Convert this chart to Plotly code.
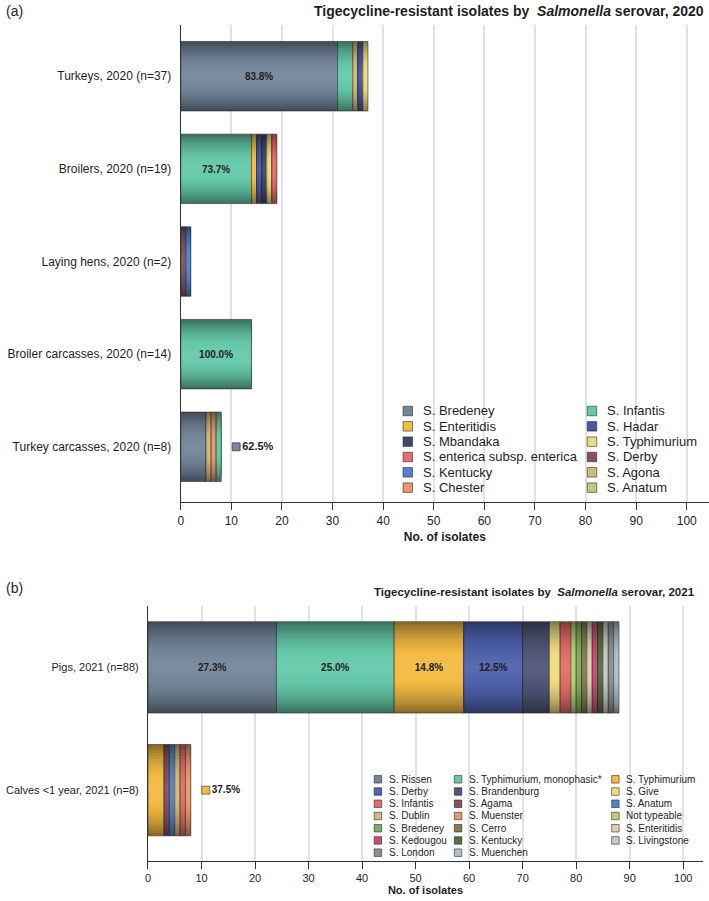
import plotly.graph_objects as go

W, H = 709, 901

# ---------------- data: 2020 ----------------
cats_2020 = ["Turkeys, 2020 (n=37)", "Broilers, 2020 (n=19)", "Laying hens, 2020 (n=2)",
             "Broiler carcasses, 2020 (n=14)", "Turkey carcasses, 2020 (n=8)"]
turkeys_2020 = [("S. Bredeney", 31), ("S. Infantis", 3), ("S. Agona", 1), ("S. Hadar", 1), ("S. Typhimurium", 1)]
broilers_2020 = [("S. Infantis", 14), ("S. Enteritidis", 1), ("S. Hadar", 1), ("S. Mbandaka", 1),
                 ("S. Typhimurium", 1), ("S. enterica subsp. enterica", 1)]
laying_hens_2020 = [("S. Derby", 1), ("S. Kentucky", 1)]
broiler_carcasses_2020 = [("S. Infantis", 14)]
turkey_carcasses_2020 = [("S. Bredeney", 5), ("S. Agona", 1), ("S. Chester", 1), ("S. Infantis", 1)]
segments_2020 = [turkeys_2020, broilers_2020, laying_hens_2020, broiler_carcasses_2020, turkey_carcasses_2020]
# which serovar's share is labelled, and where
labels_2020 = {0: [("S. Bredeney", "inside")], 1: [("S. Infantis", "inside")],
               3: [("S. Infantis", "inside")], 4: [("S. Bredeney", "outside")]}
legend_2020 = [["S. Bredeney", "S. Enteritidis", "S. Mbandaka", "S. enterica subsp. enterica", "S. Kentucky", "S. Chester"],
               ["S. Infantis", "S. Hadar", "S. Typhimurium", "S. Derby", "S. Agona", "S. Anatum"]]

# ---------------- data: 2021 ----------------
cats_2021 = ["Pigs, 2021 (n=88)", "Calves <1 year, 2021 (n=8)"]
pigs_2021 = [("S. Rissen", 24), ("S. Typhimurium, monophasic*", 22), ("S. Typhimurium", 13), ("S. Derby", 11),
             ("S. Brandenburg", 5), ("S. Give", 2), ("S. Infantis", 2), ("Not typeable", 1), ("S. Bredeney", 1),
             ("S. Cerro", 1), ("S. Enteritidis", 1), ("S. Kedougou", 1), ("S. Kentucky", 1),
             ("S. Livingstone", 1), ("S. London", 1), ("S. Muenchen", 1)]
calves_2021 = [("S. Typhimurium", 3), ("S. Agama", 1), ("S. Anatum", 1), ("S. Dublin", 1),
               ("S. Infantis", 1), ("S. Muenster", 1)]
segments_2021 = [pigs_2021, calves_2021]
labels_2021 = {0: [("S. Rissen", "inside"), ("S. Typhimurium, monophasic*", "inside"),
                   ("S. Typhimurium", "inside"), ("S. Derby", "inside")],
               1: [("S. Typhimurium", "outside")]}
legend_2021 = [["S. Rissen", "S. Derby", "S. Infantis", "S. Dublin", "S. Bredeney", "S. Kedougou", "S. London"],
               ["S. Typhimurium, monophasic*", "S. Brandenburg", "S. Agama", "S. Muenster", "S. Cerro",
                "S. Kentucky", "S. Muenchen"],
               ["S. Typhimurium", "S. Give", "S. Anatum", "Not typeable", "S. Enteritidis", "S. Livingstone"]]

# ---------------- styles ----------------
colors_2020 = {
    "S. Bredeney": "#74879a", "S. Enteritidis": "#f4bb44", "S. Mbandaka": "#41476a",
    "S. enterica subsp. enterica": "#e56d6a", "S. Kentucky": "#5283c8", "S. Chester": "#e8986e",
    "S. Infantis": "#66c9aa", "S. Hadar": "#4459a6", "S. Typhimurium": "#efdc80",
    "S. Derby": "#83545e", "S. Agona": "#cdba7c", "S. Anatum": "#bdcc78",
}
colors_2021 = {
    "S. Rissen": "#74879a", "S. Derby": "#4f63ae", "S. Infantis": "#e56d6a", "S. Dublin": "#cdba7c",
    "S. Bredeney": "#7dad60", "S. Kedougou": "#c64e6e", "S. London": "#8e8e8e",
    "S. Typhimurium, monophasic*": "#66c9aa", "S. Brandenburg": "#505778", "S. Agama": "#83545e",
    "S. Muenster": "#e8986e", "S. Cerro": "#807f4a", "S. Kentucky": "#537042", "S. Muenchen": "#aec0cf",
    "S. Typhimurium": "#f4bb44", "S. Give": "#efdc80", "S. Anatum": "#5283c8", "Not typeable": "#bdcc78",
    "S. Enteritidis": "#dfcdb8", "S. Livingstone": "#c8c8c8",
}

FONT = "Liberation Sans, Arial, sans-serif"
TXT = "#1e1e1e"
EDGE = "rgba(30,30,30,0.55)"
N_SHADE = 16

# pixel geometry of the two panels
TOP = dict(x0=178.5, x1=709, y0=25, y1=502, xmax=104.4, yr=[4.596, -0.553], bw=0.75)
BOT = dict(x0=145.6, x1=703, y0=606, y1=861, xmax=103.7, yr=[1.577, -0.5], bw=0.744)


def py(v):
    return 1 - v / H


def px(v):
    return v / W


def shade(hex_color, dark):
    h = hex_color.lstrip("#")
    r, g, b = (int(h[i:i + 2], 16) for i in (0, 2, 4))
    if dark >= 0:
        f = 1 - dark
        r, g, b = r * f, g * f, b * f
    else:
        f = -dark
        r, g, b = r + (255 - r) * f, g + (255 - g) * f, b + (255 - b) * f
    return f"rgb({int(r)},{int(g)},{int(b)})"


fig = go.Figure()


def add_panel(cats, segments, labels, colors, xa, ya, geo, fsize):
    units_per_px = geo["xmax"] / (geo["x1"] - geo["x0"])
    for ci, segs in enumerate(segments):
        total = sum(n for _, n in segs)
        lab_map = dict(labels.get(ci, []))
        start = 0
        for name, n in segs:
            # layered bars give the vertical shading of each segment
            for k in range(N_SHADE):
                t = k / (N_SHADE - 1)
                w = geo["bw"] * (1 - 0.95 * t)
                dark = 0.42 * (1 - t) ** 2 - 0.05 * t
                fig.add_trace(go.Bar(
                    x=[n], base=[start], y=[cats[ci]], orientation="h", width=w,
                    marker=dict(color=shade(colors[name], dark), line=dict(width=0)),
                    textposition="none", name=name, showlegend=False, xaxis=xa, yaxis=ya,
                    hoverinfo="skip",
                ))
            # outline + label on top
            txt = f"{100 * n / total:.1f}%" if lab_map.get(name) == "inside" else ""
            fig.add_trace(go.Bar(
                x=[n], base=[start], y=[cats[ci]], orientation="h", width=geo["bw"],
                marker=dict(color="rgba(0,0,0,0)", line=dict(color=EDGE, width=1)),
                text=[txt], textposition="inside" if txt else "none", insidetextanchor="middle", textangle=0,
                textfont=dict(family=FONT, size=fsize, color=TXT, weight="bold"),
                constraintext="none",
                name=name, showlegend=False, xaxis=xa, yaxis=ya,
                hovertemplate=name + ": %{x}<extra></extra>",
            ))
            if lab_map.get(name) == "outside":
                fig.add_trace(go.Scatter(
                    x=[total + 15 * units_per_px], y=[cats[ci]], mode="markers+text",
                    marker=dict(symbol="square", size=8, color=colors[name], line=dict(color=EDGE, width=1)),
                    text=[f"{100 * n / total:.1f}%"], textposition="middle right",
                    textfont=dict(family=FONT, size=fsize, color=TXT, weight="bold"),
                    showlegend=False, xaxis=xa, yaxis=ya, hoverinfo="skip", cliponaxis=False,
                ))
            start += n


add_panel(cats_2020, segments_2020, labels_2020, colors_2020, "x", "y", TOP, 11)
add_panel(cats_2021, segments_2021, labels_2021, colors_2021, "x2", "y2", BOT, 10)

shapes = []
annotations = []


def add_legend(columns, colors, col_sq_x, row0, pitch, sq, gap, fsize):
    for c, names in enumerate(columns):
        for r, name in enumerate(names):
            yc = row0 + r * pitch
            xc = col_sq_x[c]
            shapes.append(dict(type="rect", xref="paper", yref="paper",
                               x0=px(xc - sq / 2), x1=px(xc + sq / 2), y0=py(yc + sq / 2), y1=py(yc - sq / 2),
                               fillcolor=colors[name], line=dict(color=EDGE, width=1)))
            annotations.append(dict(xref="paper", yref="paper", x=px(xc + gap), y=py(yc),
                                    xanchor="left", yanchor="middle", showarrow=False, text=name,
                                    font=dict(family=FONT, size=fsize, color=TXT)))


add_legend(legend_2020, colors_2020, [406.5, 591.5], 411, 15.33, 9.5, 13.5, 13)
add_legend(legend_2021, colors_2021, [376.5, 457, 615], 779.3, 12.23, 7.5, 9, 10)

annotations += [
    dict(xref="paper", yref="paper", x=px(1), y=py(11), xanchor="left", yanchor="middle", showarrow=False,
         text="(a)", font=dict(family=FONT, size=14, color=TXT)),
    dict(xref="paper", yref="paper", x=px(706), y=py(11), xanchor="right", yanchor="middle", showarrow=False,
         text="<b>Tigecycline-resistant isolates by\u00a0 <i>Salmonella</i> serovar, 2020</b>",
         font=dict(family=FONT, size=14, color=TXT)),
    dict(xref="paper", yref="paper", x=px(1), y=py(588), xanchor="left", yanchor="middle", showarrow=False,
         text="(b)", font=dict(family=FONT, size=14, color=TXT)),
    dict(xref="paper", yref="paper", x=px(697), y=py(592), xanchor="right", yanchor="middle", showarrow=False,
         text="<b>Tigecycline-resistant isolates by\u00a0 <i>Salmonella</i> serovar, 2021</b>",
         font=dict(family=FONT, size=11.5, color=TXT)),
]


def xaxis_cfg(geo, fsize, standoff):
    return dict(domain=[px(geo["x0"]), px(geo["x1"])], range=[0, geo["xmax"]], tick0=0, dtick=10,
                showgrid=True, gridcolor="#e2e2e2", gridwidth=1.5, zeroline=False,
                showline=True, linecolor="#333", linewidth=1.2, ticks="outside", ticklen=7,
                tickcolor="#333", tickfont=dict(family=FONT, size=fsize, color=TXT),
                title=dict(text="<b>No. of isolates</b>", font=dict(family=FONT, size=fsize, color=TXT),
                           standoff=standoff))


def yaxis_cfg(geo, cats, fsize):
    return dict(domain=[py(geo["y1"]), py(geo["y0"])], type="category", categoryorder="array",
                categoryarray=cats, range=geo["yr"], showgrid=False, zeroline=False,
                showline=True, linecolor="#333", linewidth=1.2, ticks="", ticklabelstandoff=6,
                tickfont=dict(family=FONT, size=fsize, color=TXT))


xa1 = xaxis_cfg(TOP, 12, 6)
xa1["anchor"] = "y"
ya1 = yaxis_cfg(TOP, cats_2020, 12)
ya1["anchor"] = "x"
xa2 = xaxis_cfg(BOT, 11, 3)
xa2["anchor"] = "y2"
ya2 = yaxis_cfg(BOT, cats_2021, 11)
ya2["anchor"] = "x2"

fig.update_layout(
    width=W, height=H, margin=dict(l=0, r=0, t=0, b=0),
    paper_bgcolor="white", plot_bgcolor="white",
    barmode="overlay", showlegend=False,
    font=dict(family=FONT, color=TXT),
    xaxis=xa1, yaxis=ya1, xaxis2=xa2, yaxis2=ya2,
    shapes=shapes, annotations=annotations,
    uniformtext=dict(minsize=8, mode="show"),
)

fig.write_html(
    "out.html",
    config={"displayModeBar": False},
    post_script="document.body.style.margin='0';document.body.style.padding='0';"
                "document.body.style.overflow='hidden';",
)
